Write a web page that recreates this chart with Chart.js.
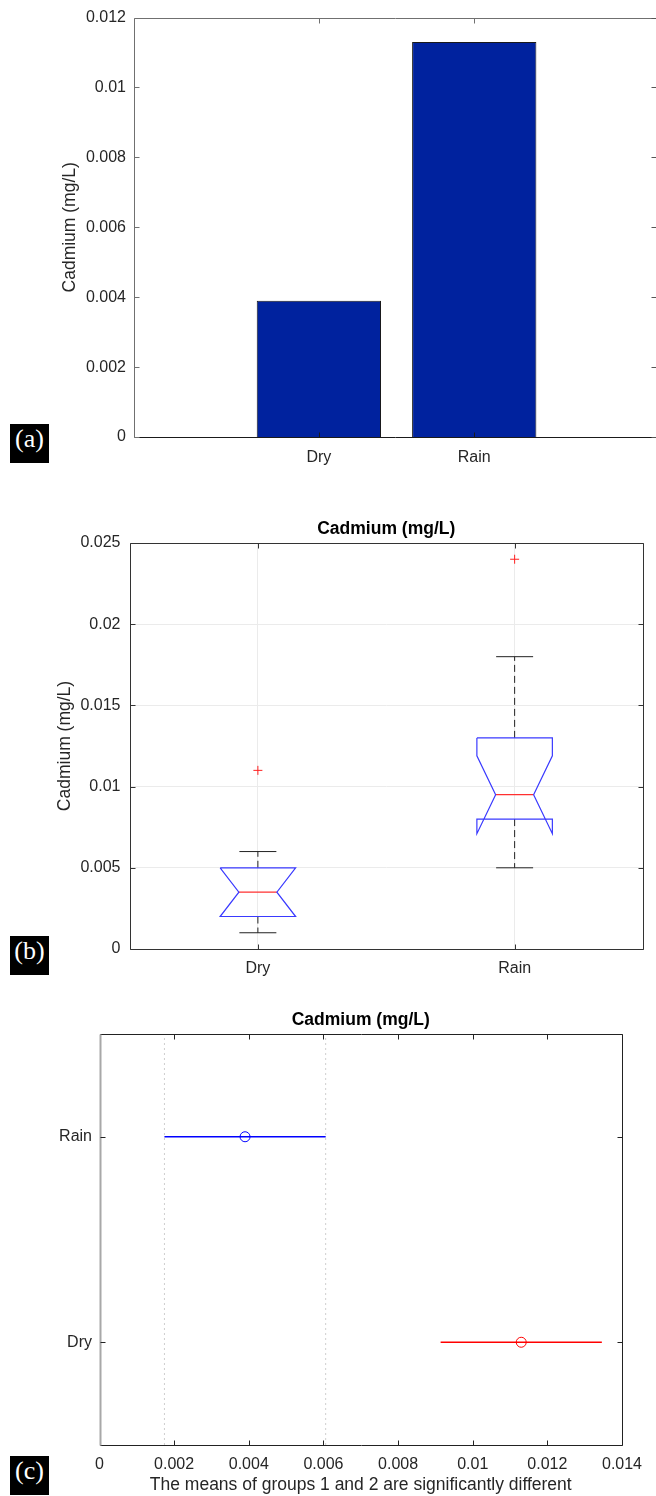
<!DOCTYPE html>
<html>
<head>
<meta charset="utf-8">
<script src="https://cdn.jsdelivr.net/npm/chart.js@4.4.1/dist/chart.umd.min.js"></script>
<style>
  html, body { margin: 0; padding: 0; background: #fff; }
  body { width: 656px; height: 1496px; position: relative; overflow: hidden; }
  .panel { position: absolute; left: 0; width: 656px; }
  .tag {
    position: absolute; left: 10px; width: 39px; height: 39px;
    background: #000; color: #fff; text-align: center; line-height: 38px;
    font: 26px "Liberation Serif", "Times New Roman", serif;
  }
</style>
</head>
<body>
<div class="panel" style="top:0;height:480px"><canvas id="barChart"></canvas></div>
<div class="panel" style="top:490px;height:500px"><canvas id="boxChart"></canvas></div>
<div class="panel" style="top:990px;height:506px"><canvas id="cmpChart"></canvas></div>
<div class="tag" style="top:424px">(a)</div>
<div class="tag" style="top:936px">(b)</div>
<div class="tag" style="top:1456px">(c)</div>

<script>
// ---- (a) mean cadmium per season ----
const seasons = ['Dry', 'Rain'];
const meanCadmium = [0.0039, 0.0113];
const barTicks = [0, 0.002, 0.004, 0.006, 0.008, 0.01, 0.012];

// ---- (b) box plot statistics per season ----
const q1 = [0.002, 0.008];
const medians = [0.0035, 0.0095];
const q3 = [0.005, 0.013];
const notchLow = [0.002, 0.0071];
const notchHigh = [0.005, 0.0119];
const whiskerLow = [0.001, 0.005];
const whiskerHigh = [0.006, 0.018];
const outliers = [[0.011], [0.024]];
const boxTicks = [0, 0.005, 0.01, 0.015, 0.02, 0.025];

// ---- (c) multiple comparison of means (group 1 at bottom) ----
const cmpGroups = ['Dry', 'Rain'];
const cmpMeans = [0.0113, 0.0039];
const cmpLow = [0.00914, 0.00174];
const cmpHigh = [0.01346, 0.00606];
const cmpColors = ['#ff0000', '#0000ff'];
const cmpSelected = 1;
const cmpTicks = [0, 0.002, 0.004, 0.006, 0.008, 0.01, 0.012, 0.014];
const cmpNote = 'The means of groups 1 and 2 are significantly different';

const yLabel = 'Cadmium (mg/L)';
const fmt = v => String(Number(Number(v).toFixed(4)));
const setTicks = vals => scale => { scale.ticks = vals.map(v => ({ value: v })); };
const titleFont = { size: 17.5 };
const headFont = { size: 17.5, weight: 'bold' };

Chart.defaults.font.family = '"Liberation Sans", Arial, Helvetica, sans-serif';
Chart.defaults.font.size = 16;
Chart.defaults.color = '#262626';
Chart.defaults.animation = false;

// Axes box with inward tick marks on every side
const axesBox = {
  id: 'axesBox',
  afterDatasetsDraw(chart, args, o) {
    const { ctx, chartArea: a, scales: { x, y } } = chart;
    const len = o.tickLength || 5;
    const px = v => Math.round(v) + 0.5;
    const seg = (color, width, x1, y1, x2, y2) => {
      ctx.strokeStyle = color; ctx.lineWidth = width || 1;
      ctx.beginPath(); ctx.moveTo(x1, y1); ctx.lineTo(x2, y2); ctx.stroke();
    };
    const edge = (st, x1, y1, x2, y2) => { if (st.line !== false) seg(st.color, st.width, x1, y1, x2, y2); };
    const mark = (st, x1, y1, x2, y2) => seg(st.tickColor || st.color, 1, x1, y1, x2, y2);
    ctx.save();
    const L = px(a.left), R = px(a.right), T = px(a.top), B = px(a.bottom);
    const s = o.sides;
    if (s.top) {
      edge(s.top, L, T, R, T);
      x.ticks.forEach(t => { const p = px(x.getPixelForValue(t.value)); mark(s.top, p, T, p, T + len); });
    }
    if (s.bottom) {
      edge(s.bottom, L, B, R, B);
      x.ticks.forEach(t => { const p = px(x.getPixelForValue(t.value)); mark(s.bottom, p, B, p, B - len); });
    }
    if (s.right) {
      edge(s.right, R, T, R, B);
      y.ticks.forEach(t => { const p = px(y.getPixelForValue(t.value)); mark(s.right, R, p, R - len, p); });
    }
    if (s.left) {
      edge(s.left, L, T, L, B);
      y.ticks.forEach(t => { const p = px(y.getPixelForValue(t.value)); mark(s.left, L, p, L + len, p); });
    }
    ctx.restore();
  }
};

const noExtras = { legend: { display: false }, tooltip: { enabled: false } };

// ================= (a) bar chart =================
new Chart(document.getElementById('barChart'), {
  type: 'bar',
  data: {
    datasets: [{
      data: seasons.map((s, i) => ({ x: i + 1, y: meanCadmium[i] })),
      backgroundColor: '#00229e',
      borderColor: '#1a1a1a',
      borderWidth: 1,
      barPercentage: 0.8,
      categoryPercentage: 1
    }]
  },
  options: {
    responsive: true, maintainAspectRatio: false,
    layout: { padding: { top: 16, right: 0, bottom: 0, left: 0 } },
    plugins: Object.assign({}, noExtras, {
      axesBox: { sides: {
        top: { color: '#707070' }, left: { color: '#707070' },
        bottom: { color: '#1a1a1a' }, right: { color: '#555', line: false } } }
    }),
    scales: {
      x: {
        type: 'linear', min: -0.19, max: 3.17, offset: false,
        afterBuildTicks: setTicks([1, 2]),
        afterFit: s => { s.height = 43; },
        ticks: { callback: v => seasons[v - 1] || '', padding: 11, maxRotation: 0, autoSkip: false },
        grid: { display: false, drawTicks: false }, border: { display: false }
      },
      y: {
        min: 0, max: 0.012,
        afterBuildTicks: setTicks(barTicks),
        afterFit: s => { s.width = 134; },
        ticks: { callback: fmt, padding: 8 },
        grid: { display: false, drawTicks: false }, border: { display: false },
        title: { display: true, text: yLabel, font: titleFont, padding: { top: 60, bottom: 0 } }
      }
    }
  },
  plugins: [axesBox]
});

// ================= (b) notched box plot =================
const boxHalf = 0.147, notchHalf = 0.074, capHalf = 0.072;
const boxSets = [];
seasons.forEach((s, i) => {
  const c = i + 1;
  const nHi = Math.min(notchHigh[i], q3[i]);
  boxSets.push({
    data: [
      { x: c - boxHalf, y: q3[i] }, { x: c + boxHalf, y: q3[i] },
      { x: c + boxHalf, y: nHi }, { x: c + notchHalf, y: medians[i] },
      { x: c + boxHalf, y: notchLow[i] }, { x: c + boxHalf, y: q1[i] },
      { x: c - boxHalf, y: q1[i] }, { x: c - boxHalf, y: notchLow[i] },
      { x: c - notchHalf, y: medians[i] }, { x: c - boxHalf, y: nHi },
      { x: c - boxHalf, y: q3[i] }
    ],
    borderColor: '#3a3aff', borderWidth: 1.2
  });
  boxSets.push({
    data: [{ x: c - notchHalf, y: medians[i] }, { x: c + notchHalf, y: medians[i] }],
    borderColor: '#ff3030', borderWidth: 1.2
  });
  boxSets.push({ data: [{ x: c, y: q3[i] }, { x: c, y: whiskerHigh[i] }], borderColor: '#222', borderWidth: 1, borderDash: [7, 4] });
  boxSets.push({ data: [{ x: c, y: q1[i] }, { x: c, y: whiskerLow[i] }], borderColor: '#222', borderWidth: 1, borderDash: [7, 4] });
  boxSets.push({ data: [{ x: c - capHalf, y: whiskerHigh[i] }, { x: c + capHalf, y: whiskerHigh[i] }], borderColor: '#222', borderWidth: 1 });
  boxSets.push({ data: [{ x: c - capHalf, y: whiskerLow[i] }, { x: c + capHalf, y: whiskerLow[i] }], borderColor: '#222', borderWidth: 1 });
  boxSets.push({
    data: outliers[i].map(v => ({ x: c, y: v })),
    showLine: false, pointStyle: 'cross', pointRadius: 4.5,
    pointBorderColor: '#ff2020', pointBorderWidth: 1
  });
});
boxSets.forEach(d => { if (d.pointRadius === undefined) d.pointRadius = 0; d.fill = false; d.tension = 0; });

new Chart(document.getElementById('boxChart'), {
  type: 'line',
  data: { datasets: boxSets },
  options: {
    responsive: true, maintainAspectRatio: false,
    layout: { padding: { top: 0, right: 13, bottom: 0, left: 0 } },
    plugins: Object.assign({}, noExtras, {
      title: { display: true, text: yLabel, fullSize: false, color: '#000',
               font: headFont, padding: { top: 28.5, bottom: 3.5 } },
      axesBox: { sides: { top: { color: '#333' }, left: { color: '#333' },
                          bottom: { color: '#333' }, right: { color: '#333' } } }
    }),
    scales: {
      x: {
        type: 'linear', min: 0.5, max: 2.5,
        afterBuildTicks: setTicks([1, 2]),
        afterFit: s => { s.height = 41; },
        ticks: { callback: v => seasons[v - 1] || '', padding: 10, maxRotation: 0, autoSkip: false },
        grid: { color: '#ebebeb', drawTicks: false }, border: { display: false }
      },
      y: {
        min: 0, max: 0.025,
        afterBuildTicks: setTicks(boxTicks),
        afterFit: s => { s.width = 129.5; },
        ticks: { callback: fmt, padding: 9 },
        grid: { color: '#ebebeb', drawTicks: false }, border: { display: false },
        title: { display: true, text: yLabel, font: titleFont, padding: { top: 54.5, bottom: 0 } }
      }
    }
  },
  plugins: [axesBox]
});

// ================= (c) comparison intervals =================
const cmpSets = [];
[cmpLow[cmpSelected], cmpHigh[cmpSelected]].forEach(v => {
  cmpSets.push({ data: [{ x: v, y: 0.5 }, { x: v, y: 2.5 }], borderColor: '#cfcfcf', borderWidth: 1, borderDash: [2, 3] });
});
cmpGroups.forEach((g, i) => {
  cmpSets.push({ data: [{ x: cmpLow[i], y: i + 1 }, { x: cmpHigh[i], y: i + 1 }], borderColor: cmpColors[i], borderWidth: 1.3 });
  cmpSets.push({
    data: [{ x: cmpMeans[i], y: i + 1 }], showLine: false, pointStyle: 'circle', pointRadius: 5,
    pointBorderColor: cmpColors[i], pointBackgroundColor: 'rgba(0,0,0,0)', pointBorderWidth: 1
  });
});
cmpSets.forEach(d => { if (d.pointRadius === undefined) d.pointRadius = 0; d.fill = false; d.tension = 0; });

new Chart(document.getElementById('cmpChart'), {
  type: 'line',
  data: { datasets: cmpSets },
  options: {
    responsive: true, maintainAspectRatio: false,
    layout: { padding: { top: 0, right: 34, bottom: 0, left: 0 } },
    plugins: Object.assign({}, noExtras, {
      title: { display: true, text: yLabel, fullSize: false, color: '#000',
               font: headFont, padding: { top: 20, bottom: 3 } },
      axesBox: { sides: { top: { color: '#222' }, left: { color: '#a8a8a8', width: 2, tickColor: '#222' },
                          bottom: { color: '#222' }, right: { color: '#222' } } }
    }),
    scales: {
      x: {
        type: 'linear', min: 0, max: 0.014,
        afterBuildTicks: setTicks(cmpTicks),
        afterFit: s => { s.height = 51; },
        ticks: { callback: fmt, padding: 10, maxRotation: 0, autoSkip: false },
        grid: { display: false, drawTicks: false }, border: { display: false },
        title: { display: true, text: cmpNote, font: titleFont, padding: { top: 0, bottom: 0 } }
      },
      y: {
        min: 0.5, max: 2.5,
        afterBuildTicks: setTicks([1, 2]),
        afterFit: s => { s.width = 99.5; },
        ticks: { callback: v => cmpGroups[v - 1] || '', padding: 7.5 },
        grid: { display: false, drawTicks: false }, border: { display: false }
      }
    }
  },
  plugins: [axesBox]
});
</script>
</body>
</html>
